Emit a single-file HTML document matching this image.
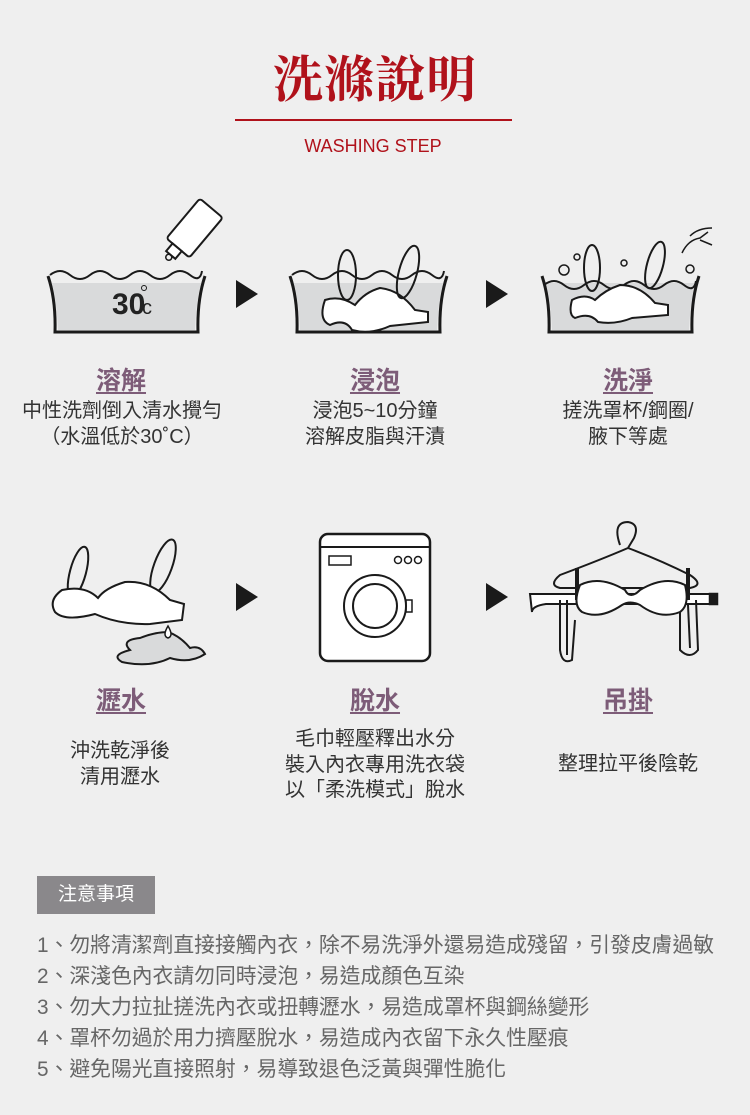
<!DOCTYPE html>
<html><head><meta charset="utf-8"><style>
body{margin:0;background:#efefef;width:750px;height:1115px;position:relative;overflow:hidden;font-family:"Liberation Sans","Noto Sans CJK TC",sans-serif;}
.a{position:absolute;white-space:nowrap}
.c{text-align:center;transform:translateX(-50%)}
.h{color:#7d5c78;font-size:25px;font-weight:bold;text-decoration:underline;text-underline-offset:3px}
.t{color:#333;font-size:20px;line-height:25.5px}
.n{color:#666;font-size:20.8px;left:37px}
svg{position:absolute;left:0;top:0}
</style></head><body>
<div class="a c" style="left:375px;top:40px;color:#b0121b;font-size:50px;font-weight:bold;font-family:'Noto Serif CJK SC',serif;letter-spacing:1px">洗滌說明</div>
<div class="a" style="left:235px;top:119px;width:277px;height:2px;background:#b0121b"></div>
<div class="a c" style="left:373px;top:136px;color:#b0121b;font-size:18px">WASHING STEP</div>

<svg width="750" height="1115" viewBox="0 0 750 1115" fill="none" stroke="#1a1a1a" stroke-width="2.5">
<g>
<path d="M52 283 Q57 305 58 330 L195 330 Q196 305 201 283 Z" fill="#d9dadb" stroke="none"/>
<path d="M50 275 q10 -8 20 0 t20 0 t20 0 t20 0 t20 0 t20 0 t20 0 t12 -4" stroke-width="2"/>
<path d="M48 276 Q56 300 55 332 L198 332 Q197 300 205 276" stroke-width="3"/>
</g>
<text x="112" y="314" font-size="30" font-weight="bold" fill="#222" stroke="none" font-family="Liberation Sans Narrow,Liberation Sans">30</text>
<text x="142" y="314" font-size="20" fill="#222" stroke="none">c</text>
<circle cx="144" cy="288" r="2.5" stroke-width="1"/>
<g transform="translate(190 232) rotate(40)"><rect x="-14" y="-32" width="30" height="52" rx="3" fill="#fff" stroke-width="2"/><rect x="-6" y="20" width="12" height="10" fill="#fff" stroke-width="2"/><circle cx="0" cy="33" r="3" stroke-width="1.5"/></g>

<g transform="translate(242 0)"><path d="M52 283 Q57 305 58 330 L195 330 Q196 305 201 283 Z" fill="#d9dadb" stroke="none"/><path d="M50 275 q10 -8 20 0 t20 0 t20 0 t20 0 t20 0 t20 0 t20 0 t12 -4" stroke-width="2"/><path d="M48 276 Q56 300 55 332 L198 332 Q197 300 205 276" stroke-width="3"/></g>
<path d="M325 300 Q318 320 330 325 Q345 318 352 330 Q370 335 390 326 L428 322 L428 312 L415 310 Q400 290 380 288 Q365 292 355 305 Q340 295 325 300Z" fill="#fff" stroke-width="2"/>
<ellipse cx="347" cy="275" rx="9" ry="25" stroke-width="2"/><ellipse cx="408" cy="272" rx="9" ry="27" stroke-width="2" transform="rotate(15 408 272)"/>

<g transform="translate(494 0)"><path d="M52 283 Q57 305 58 330 L195 330 Q196 305 201 283 Z" fill="#d9dadb" stroke="none"/><path d="M50 285 q10 -8 20 0 t20 0 t20 0 t20 0 t20 0 t20 0 t20 0 t12 -4" stroke-width="2"/><path d="M48 276 Q56 300 55 332 L198 332 Q197 300 205 276" stroke-width="3"/></g>
<path d="M572 300 Q568 315 575 318 Q590 312 598 322 Q615 325 632 318 L668 315 L668 305 L655 303 Q640 285 620 285 Q605 290 595 300 Q585 293 572 300Z" fill="#fff" stroke-width="2"/>
<ellipse cx="592" cy="268" rx="8" ry="23" stroke-width="2"/><ellipse cx="655" cy="265" rx="8" ry="24" stroke-width="2" transform="rotate(15 655 265)"/>
<circle cx="564" cy="270" r="5" stroke-width="1.5"/><circle cx="577" cy="257" r="3" stroke-width="1.5"/><circle cx="624" cy="263" r="3" stroke-width="1.5"/><circle cx="690" cy="269" r="4" stroke-width="1.5"/>
<path d="M682 253 Q688 240 700 238 L708 232 M690 236 Q698 228 712 228 M700 240 L712 245" stroke-width="1.5"/>

<g fill="#1a1a1a" stroke="none"><path d="M236 280 L258 294 L236 308Z"/><path d="M486 280 L508 294 L486 308Z"/>
<path d="M236 583 L258 597 L236 611Z"/><path d="M486 583 L508 597 L486 611Z"/></g>

<ellipse cx="78" cy="572" rx="8" ry="26" stroke-width="2" transform="rotate(15 78 572)"/><ellipse cx="163" cy="566" rx="9" ry="28" stroke-width="2" transform="rotate(20 163 566)"/>
<path d="M62 590 Q48 600 55 612 Q65 622 95 614 Q120 625 150 624 L182 620 L184 604 L170 600 Q150 580 125 582 Q105 588 98 598 Q85 585 62 590Z" fill="#fff" stroke-width="2"/>
<path d="M140 638 Q120 640 130 650 Q110 655 122 662 Q150 668 170 658 Q190 664 205 654 Q200 645 190 648 Q180 636 168 632 Q155 632 140 638Z" fill="#d9dadb" stroke-width="2"/>
<path d="M168 626 Q162 636 168 638 Q174 636 168 626Z" fill="#fff" stroke-width="1.5"/>

<rect x="320" y="534" width="110" height="127" rx="8" fill="#fff" stroke-width="2.5"/>
<line x1="320" y1="547" x2="430" y2="547" stroke-width="2"/>
<rect x="329" y="556" width="22" height="9" stroke-width="1.5"/>
<circle cx="398" cy="560" r="3.5" stroke-width="1.5"/><circle cx="408" cy="560" r="3.5" stroke-width="1.5"/><circle cx="418" cy="560" r="3.5" stroke-width="1.5"/>
<circle cx="375" cy="606" r="31" stroke-width="2"/><circle cx="375" cy="606" r="22" stroke-width="2"/>
<rect x="406" y="600" width="6" height="12" stroke-width="1.5"/>

<path d="M620 545 Q612 522 628 522 Q640 524 634 538 L628 548 Q600 560 560 575 Q548 585 560 588 L690 588 Q705 585 690 575 Q660 560 628 548" stroke-width="2"/>
<path d="M530 594 L716 594 L716 604 L546 604 Q532 606 532 612 Z" fill="#fff" stroke-width="2"/>
<rect x="710" y="594" width="7" height="10" fill="#1a1a1a"/>
<rect x="575" y="568" width="4" height="32" fill="#1a1a1a" stroke="none"/><rect x="686" y="568" width="4" height="32" fill="#1a1a1a" stroke="none"/>
<path d="M560 600 L560 650 Q562 665 572 660 L575 620 M567 600 L567 655" stroke-width="2"/>
<path d="M680 610 L680 650 Q690 660 698 650 L696 600 M688 605 L690 648" stroke-width="2"/>
<path d="M580 585 Q600 575 625 590 Q630 600 640 590 Q665 575 685 585 Q690 605 680 612 Q660 620 640 605 Q630 600 622 605 Q600 620 582 612 Q572 605 580 585Z" fill="#fff" stroke-width="2"/>
</svg>

<div class="a c h" style="left:121px;top:361px">溶解</div>
<div class="a c h" style="left:375px;top:361px">浸泡</div>
<div class="a c h" style="left:628px;top:361px">洗淨</div>
<div class="a c t" style="left:122px;top:399px">中性洗劑倒入清水攪勻<br>（水溫低於30˚C）</div>
<div class="a c t" style="left:375px;top:399px">浸泡5~10分鐘<br>溶解皮脂與汗漬</div>
<div class="a c t" style="left:628px;top:399px">搓洗罩杯/鋼圈/<br>腋下等處</div>

<div class="a c h" style="left:121px;top:681px">瀝水</div>
<div class="a c h" style="left:375px;top:681px">脫水</div>
<div class="a c h" style="left:628px;top:681px">吊掛</div>
<div class="a c t" style="left:120px;top:739px">沖洗乾淨後<br>清用瀝水</div>
<div class="a c t" style="left:375px;top:727px">毛巾輕壓釋出水分<br>裝入內衣專用洗衣袋<br>以「柔洗模式」脫水</div>
<div class="a c t" style="left:628px;top:752px">整理拉平後陰乾</div>

<div class="a" style="left:37px;top:876px;width:118px;height:38px;background:#8a888b;color:#fff;font-size:19px;line-height:38px;text-align:center">注意事項</div>
<div class="a n" style="top:928px">1、勿將清潔劑直接接觸內衣，除不易洗淨外還易造成殘留，引發皮膚過敏</div>
<div class="a n" style="top:959px">2、深淺色內衣請勿同時浸泡，易造成顏色互染</div>
<div class="a n" style="top:990px">3、勿大力拉扯搓洗內衣或扭轉瀝水，易造成罩杯與鋼絲變形</div>
<div class="a n" style="top:1021px">4、罩杯勿過於用力擠壓脫水，易造成內衣留下永久性壓痕</div>
<div class="a n" style="top:1052px">5、避免陽光直接照射，易導致退色泛黃與彈性脆化</div>
</body></html>
